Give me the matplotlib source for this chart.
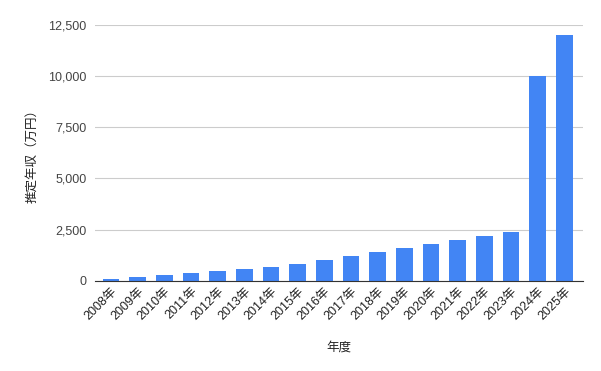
import matplotlib.pyplot as plt
import numpy as np
from matplotlib.ticker import FuncFormatter

plt.rcParams['font.family'] = ['Liberation Sans', 'Noto Sans CJK JP', 'DejaVu Sans']

years = [f"{y}年" for y in range(2008, 2026)]
income = [100, 200, 300, 400, 500, 600, 700, 800, 1000, 1200,
          1400, 1600, 1800, 2000, 2200, 2400, 10000, 12000]

fig = plt.figure(figsize=(6.01, 3.71), dpi=100)
ax = fig.add_axes([0.158, 0.243, 0.812, 0.690])

x = np.arange(len(years))
ax.bar(x, income, width=0.63, color="#4285F4", zorder=3)

ax.set_ylim(0, 12500)
ax.set_xlim(-0.6, len(years) - 0.3)
ax.set_yticks(np.arange(0, 12501, 2500))
ax.yaxis.set_major_formatter(FuncFormatter(lambda v, p: f"{int(v):,}"))
ax.grid(axis="y", color="#cccccc", linewidth=0.8, zorder=0)

ax.set_xticks(x)
ax.set_xticklabels(years, rotation=45, ha="right", rotation_mode="anchor", fontsize=9, color="#222222")
ax.tick_params(axis="y", labelsize=9, labelcolor="#444444", length=0, pad=6)
ax.tick_params(axis="x", length=0, pad=3)

for s in ["top", "right", "left"]:
    ax.spines[s].set_visible(False)
ax.spines["bottom"].set_color("#333333")
ax.spines["bottom"].set_zorder(4)

ax.set_xlabel("年度", fontsize=9, color="#222222", labelpad=14)
ax.set_ylabel("推定年収（万円）", fontsize=9, color="#222222", labelpad=7)

fig.savefig("out.png", dpi=100)
